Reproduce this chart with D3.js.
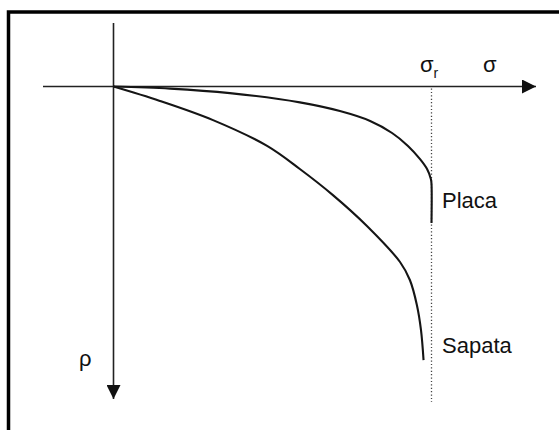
<!DOCTYPE html>
<html>
<head>
<meta charset="utf-8">
<script src="https://cdn.jsdelivr.net/npm/d3@7"></script>
<style>
  body { margin: 0; background: #fff; }
  svg text { font-family: "Liberation Sans", Arial, sans-serif; fill: #111; }
</style>
</head>
<body>
<svg id="chart" width="559" height="430"></svg>
<script>
// curve values (sigma = 0..100 where sigma_r = 100, rho arbitrary units)
const sigmaPlaca  = [0, 17.8, 36.6, 58.6, 71.2, 80.7, 87.6, 92.6, 96.4, 98.6, 99.8, 100, 100];
const rhoPlaca    = [0, 0.7, 2.2, 5.3, 8.2, 11.5, 15.5, 19.8, 24.2, 27.5, 30.8, 32.5, 45.5];
const sigmaSapata = [0, 14.6, 31.3, 48.3, 58.6, 69, 79.7, 90.1, 93.2, 95.4, 96.7, 97.5];
const rhoSapata   = [0, 4.8, 11.2, 19.8, 27.5, 36.2, 46.5, 58.5, 64.5, 72.8, 81.2, 91.2];
const sigmaR = 100;
const curveNames = ["Placa", "Sapata"];
const axisLabels = ["σ", "ρ"];

const svg = d3.select("svg#chart");

// scales: origin sits at the crossing of the two axes
let x = d3.scaleLinear().domain([0, 100]).range([113.5, 431.5]);
let y = d3.scaleLinear().domain([0, 100]).range([86.5, 386.5]);

// frame (right/bottom edges fall outside the picture)
svg.append("rect")
    .attr("x", 8.5).attr("y", 12)
    .attr("width", 700).attr("height", 600)
    .attr("fill", "none")
    .attr("stroke", "#000")
    .attr("stroke-width", 3.5);

let defs = svg.append("defs");
defs.append("marker")
    .attr("id", "arrow")
    .attr("viewBox", "0 0 14 14")
    .attr("refX", 14).attr("refY", 7)
    .attr("markerWidth", 14).attr("markerHeight", 14)
    .attr("markerUnits", "userSpaceOnUse")
    .attr("orient", "auto")
  .append("path")
    .attr("d", "M0,0 L14,7 L0,14 Z")
    .attr("fill", "#111");

// axes
svg.append("line")
    .attr("x1", 43).attr("y1", y(0))
    .attr("x2", 536).attr("y2", y(0))
    .attr("stroke", "#222").attr("stroke-width", 1.6)
    .attr("marker-end", "url(#arrow)");

svg.append("line")
    .attr("x1", x(0)).attr("y1", 23)
    .attr("x2", x(0)).attr("y2", 399)
    .attr("stroke", "#222").attr("stroke-width", 1.6)
    .attr("marker-end", "url(#arrow)");

// dotted line at sigma_r
svg.append("line")
    .attr("x1", x(sigmaR)).attr("y1", y(0) + 2)
    .attr("x2", x(sigmaR)).attr("y2", 402)
    .attr("stroke", "#444").attr("stroke-width", 1.3)
    .attr("stroke-dasharray", "1.2,2.2");

// curves
let line = d3.line()
    .x(function(d) { return x(d[0]); })
    .y(function(d) { return y(d[1]); })
    .curve(d3.curveCatmullRom.alpha(0.5));

let series = [d3.zip(sigmaPlaca, rhoPlaca), d3.zip(sigmaSapata, rhoSapata)];

svg.selectAll("path.curve")
    .data(series)
  .enter().append("path")
    .attr("class", "curve")
    .attr("d", line)
    .attr("fill", "none")
    .attr("stroke", "#151515")
    .attr("stroke-width", 2.1);

// labels
let sr = svg.append("text")
    .attr("x", 420).attr("y", 72)
    .style("font-size", "22px");
sr.append("tspan").text(axisLabels[0]);
sr.append("tspan").attr("dy", 6).style("font-size", "14px").text("r");

svg.append("text")
    .attr("x", 483).attr("y", 72)
    .style("font-size", "22px")
    .text(axisLabels[0]);

svg.append("text")
    .attr("x", 79).attr("y", 366)
    .style("font-size", "22px")
    .text(axisLabels[1]);

svg.selectAll("text.name")
    .data(curveNames)
  .enter().append("text")
    .attr("class", "name")
    .attr("x", 442)
    .attr("y", function(d, i) { return i == 0 ? 208 : 353; })
    .style("font-size", "22px")
    .text(function(d) { return d; });
</script>
</body>
</html>
